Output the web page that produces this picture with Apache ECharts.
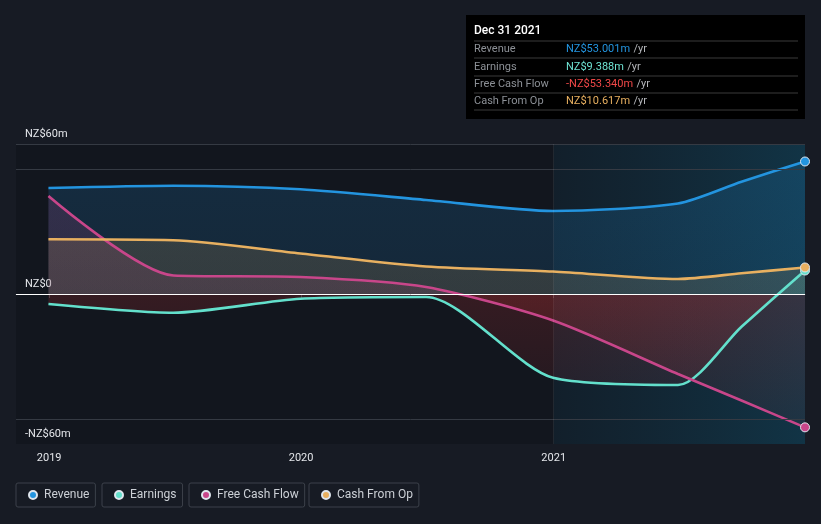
<!DOCTYPE html>
<html><head><meta charset="utf-8">
<script src="https://cdn.jsdelivr.net/npm/echarts@6/dist/echarts.min.js"></script>
<style>html,body{margin:0;padding:0;background:#171b24}#c{width:821px;height:524px}</style>
</head><body><div id="c"></div>
<script>
// ---- data ----
const dates = ['2018-12-31','2019-06-30','2019-12-31','2020-06-30','2020-12-31','2021-06-30','2021-09-30','2021-12-31'];
const revenue      = [42.4, 43.3, 41.9, 37.6, 33.2, 36.2, 44.9, 53.001];
const earnings     = [-4.0, -7.5, -1.9, -1.2, -33.5, -36.4, -13.1, 9.388];
const freeCashFlow = [39.2, 7.4, 6.8, 2.8, -10.6, -32.0, -42.6, -53.34];
const cashFromOp   = [21.9, 21.5, 16.2, 11.0, 9.0, 6.0, 8.3, 10.617];
const seriesNames  = ['Revenue', 'Earnings', 'Free Cash Flow', 'Cash From Op'];
const yTickValues  = [-60, 0, 60];
const yGridValues  = [60, 50, -50];
const xTickDates   = ['2019-01-01', '2020-01-01', '2021-01-01'];
const pastStart    = '2021-01-01';
const xMin = '2018-11-14';
const tooltipTitle = 'Dec 31 2021';

// ---- styling ----
const colors = ['#2394df', '#63e0cc', '#c8468a', '#e8b060'];
const valueColors = ['#2394df', '#6fe3d3', '#f04848', '#e8b060'];
const FONT = 'Roboto, "Open Sans", sans-serif';
const allSeries = [revenue, earnings, freeCashFlow, cashFromOp];

function rgba(hex, a) {
  const n = parseInt(hex.slice(1), 16);
  return `rgba(${(n >> 16) & 255},${(n >> 8) & 255},${n & 255},${a})`;
}
function fmt(v) {
  const s = 'NZ$' + Math.abs(v).toFixed(3) + 'm';
  return v < 0 ? '-' + s : s;
}
const ts = d => +new Date(d + 'T00:00:00Z');

const chart = echarts.init(document.getElementById('c'), null, {renderer: 'canvas'});
const last = dates.length - 1;

function areaGradient(color, yTop, yBot) {
  return {
    type: 'linear', x: 0, y: yTop, x2: 0, y2: yBot, global: true,
    colorStops: [
      {offset: 0, color: rgba(color, 0.26)},
      {offset: 0.5, color: rgba(color, 0.2)},
      {offset: 0.5, color: 'rgba(216,52,52,0.26)'},
      {offset: 1, color: 'rgba(216,52,52,0.06)'}
    ]
  };
}

function dataSeries(yTop, yBot) {
  return seriesNames.map((name, k) => ({
    name, type: 'line', z: 3,
    data: dates.map((d, i) => [ts(d), allSeries[k][i]]),
    smooth: 0.25,
    symbol: 'circle', showSymbol: true,
    symbolSize: (v, p) => (p.dataIndex === last ? 9 : 0),
    itemStyle: {color: colors[k], borderColor: '#dfe6ee', borderWidth: 1},
    lineStyle: {width: 2.6, color: colors[k]},
    areaStyle: {origin: 'auto', color: yTop == null ? rgba(colors[k], 0.2) : areaGradient(colors[k], yTop, yBot)},
    emphasis: {disabled: true},
    animation: false
  }));
}

const rowLefts = [16, 102, 189, 309];

const graphic = [
  {type: 'rect', shape: {x: 466, y: 15, width: 339, height: 104}, style: {fill: '#000'}},
  {type: 'text', x: 474, y: 31, style: {text: tooltipTitle, fill: '#ffffff', font: '500 12px ' + FONT, textVerticalAlign: 'middle'}},
];
[41, 58, 76, 93, 110].forEach(y => graphic.push({type: 'line', shape: {x1: 474, y1: y, x2: 798, y2: y}, style: {stroke: '#3a3a3a', lineWidth: 1}}));
seriesNames.forEach((n, k) => {
  const y = 49.5 + 17.3 * k;
  graphic.push({type: 'text', x: 474, y, style: {text: n, fill: '#8c9096', font: '11px ' + FONT, textVerticalAlign: 'middle'}});
  graphic.push({type: 'text', x: 566, y, style: {
    text: '{v|' + fmt(allSeries[k][last]) + '} {u|/yr}', textVerticalAlign: 'middle',
    rich: {v: {fill: valueColors[k], font: '11px ' + FONT}, u: {fill: '#b4b6ba', font: '11px ' + FONT}}
  }});
});

function buildOption(yTop, yBot) {
  return {
    backgroundColor: '#171b24',
    textStyle: {fontFamily: FONT},
    animation: false,
    grid: {left: 16, right: 16, top: 144, bottom: 80, show: true, backgroundColor: '#12161e', borderWidth: 0},
    xAxis: {
      type: 'value', min: ts(xMin), max: ts(dates[last]),
      axisLine: {show: true, lineStyle: {color: '#3d424b', width: 1}},
      axisTick: {show: true, length: 4, lineStyle: {color: '#3d424b'}, customValues: xTickDates.map(ts)},
      axisLabel: {color: '#e4e6ea', fontSize: 11, margin: 9, customValues: xTickDates.map(ts),
        showMinLabel: true, showMaxLabel: true,
        formatter: v => String(new Date(v).getUTCFullYear())},
      splitLine: {show: false}
    },
    yAxis: {
      type: 'value', min: -60, max: 60,
      axisLine: {show: false}, axisTick: {show: false}, splitLine: {show: false},
      axisLabel: {inside: true, margin: 9, verticalAlign: 'bottom', padding: [0, 0, 4, 0],
        color: '#e4e6ea', fontSize: 11, customValues: yTickValues,
        formatter: v => (v < 0 ? '-NZ$' + Math.abs(v) + 'm' : v === 0 ? 'NZ$0' : 'NZ$' + v + 'm')}
    },
    legend: seriesNames.map((n, k) => ({
      data: [n], left: rowLefts[k], top: 483, orient: 'horizontal',
      icon: 'circle', itemWidth: 8, itemHeight: 8,
      padding: [6, 6, 6, 12],
      borderColor: '#3c414a', borderWidth: 1, borderRadius: 2,
      textStyle: {color: '#ccd0d6', fontSize: 12, fontFamily: FONT, padding: [0, 0, 0, 2]},
      selectedMode: false
    })),
    graphic,
    series: [
      {
        type: 'line', data: [], z: 1, silent: true,
        markArea: {silent: true,
          itemStyle: {color: {type: 'linear', x: 0, y: 0, x2: 1, y2: 0,
            colorStops: [{offset: 0, color: 'rgba(18,80,110,0.16)'}, {offset: 1, color: 'rgba(16,105,140,0.36)'}]}},
          label: {show: true, position: 'insideTopRight', distance: [6, 6], formatter: 'Past', color: '#ffffff', fontSize: 11},
          data: [[{xAxis: ts(pastStart)}, {xAxis: ts(dates[last])}]]
        },
        markLine: {silent: true, symbol: 'none', label: {show: false},
          lineStyle: {type: 'solid', width: 1, color: '#353a43'},
          data: yGridValues.map(v => ({yAxis: v})).concat([{xAxis: ts(pastStart), lineStyle: {color: 'rgba(255,255,255,0.07)'}}])
        }
      },
      {
        type: 'line', data: [], z: 2, silent: true,
        markLine: {silent: true, symbol: 'none', label: {show: false},
          lineStyle: {type: 'solid', width: 1, color: '#ffffff'}, data: [{yAxis: 0}]}
      }
    ].concat(dataSeries(yTop, yBot))
  };
}

chart.setOption(buildOption(null, null));
const yTop = chart.convertToPixel({yAxisIndex: 0}, 60);
const yBot = chart.convertToPixel({yAxisIndex: 0}, -60);
chart.setOption(buildOption(yTop, yBot), true);
</script>
</body></html>
